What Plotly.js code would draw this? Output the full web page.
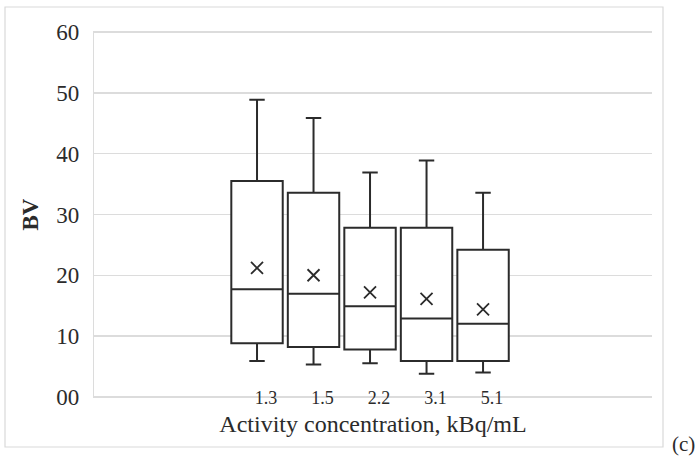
<!DOCTYPE html>
<html>
<head>
<meta charset="utf-8">
<script src="https://cdn.plot.ly/plotly-3.0.1.min.js"></script>
<style>html,body{margin:0;padding:0;background:#fff;}#chart{width:699px;height:458px;}</style>
</head>
<body>
<div id="chart"></div>
<script>
const categories = ['1.3', '1.5', '2.2', '3.1', '5.1'];
const minVals    = [5.9, 5.3, 5.5, 3.8, 4.0];
const q1Vals     = [8.8, 8.2, 7.8, 5.9, 5.9];
const medianVals = [17.7, 16.95, 14.9, 12.9, 12.0];
const q3Vals     = [35.5, 33.6, 27.8, 27.8, 24.2];
const maxVals    = [48.9, 45.9, 36.9, 38.9, 33.6];
const meanVals   = [21.2, 20.0, 17.2, 16.1, 14.4];
const yTickVals  = [0, 10, 20, 30, 40, 50, 60];
const yTickText  = ['00', '10', '20', '30', '40', '50', '60'];

const serif = 'Liberation Serif';
const ink = '#2b2b2b';

const traces = [
  {
    type: 'box',
    x: categories,
    q1: q1Vals,
    median: medianVals,
    q3: q3Vals,
    lowerfence: minVals,
    upperfence: maxVals,
    width: 0.91,
    whiskerwidth: 0.3,
    fillcolor: 'rgba(255,255,255,1)',
    line: {color: ink, width: 2},
    boxpoints: false,
    hoverinfo: 'skip',
    showlegend: false
  },
  {
    type: 'scatter',
    mode: 'markers',
    x: categories,
    y: meanVals,
    marker: {symbol: 'x-thin-open', size: 12, color: ink, line: {color: ink, width: 1.8}},
    hoverinfo: 'skip',
    showlegend: false
  }
];

const layout = {
  width: 699,
  height: 458,
  margin: {l: 94, r: 47, t: 31, b: 60},
  paper_bgcolor: '#ffffff',
  plot_bgcolor: '#ffffff',
  font: {family: serif, color: ink},
  showlegend: false,
  xaxis: {
    type: 'category',
    categoryarray: categories,
    range: [-2.885, 6.99],
    showgrid: false,
    zeroline: false,
    showline: false,
    ticks: '',
    ticklabelshift: 9,
    ticklabelstandoff: -13,
    tickfont: {family: serif, size: 18, color: ink},
    title: {text: 'Activity concentration, kBq/mL', font: {family: serif, size: 24, color: ink}, standoff: 8},
    automargin: false,
    fixedrange: true
  },
  yaxis: {
    range: [-0.2, 60.2],
    tickvals: yTickVals,
    ticktext: yTickText,
    showgrid: true,
    gridcolor: '#dcdcdc',
    gridwidth: 1.5,
    zeroline: false,
    showline: true,
    linecolor: '#dcdcdc',
    linewidth: 1.2,
    ticks: '',
    ticklabelstandoff: 9,
    tickfont: {family: serif, size: 23, color: ink},
    title: {text: '<b>BV</b>', font: {family: serif, size: 23, color: ink}, standoff: 11},
    automargin: false,
    fixedrange: true
  },
  shapes: [
    {type: 'rect', xref: 'paper', yref: 'paper',
     x0: (5 - 94) / 558, x1: (663 - 94) / 558,
     y0: (398 - 447) / 367, y1: (398 - 7) / 367,
     line: {color: '#d9d9d9', width: 1.2}, fillcolor: 'rgba(0,0,0,0)', layer: 'below'}
  ],
  annotations: [
    {text: '(c)', xref: 'paper', yref: 'paper',
     x: (683 - 94) / 558, y: (398 - 444) / 367,
     xanchor: 'center', yanchor: 'middle', showarrow: false,
     font: {family: serif, size: 21, color: ink}}
  ]
};

Plotly.newPlot('chart', traces, layout, {displayModeBar: false, staticPlot: true});
</script>
</body>
</html>
